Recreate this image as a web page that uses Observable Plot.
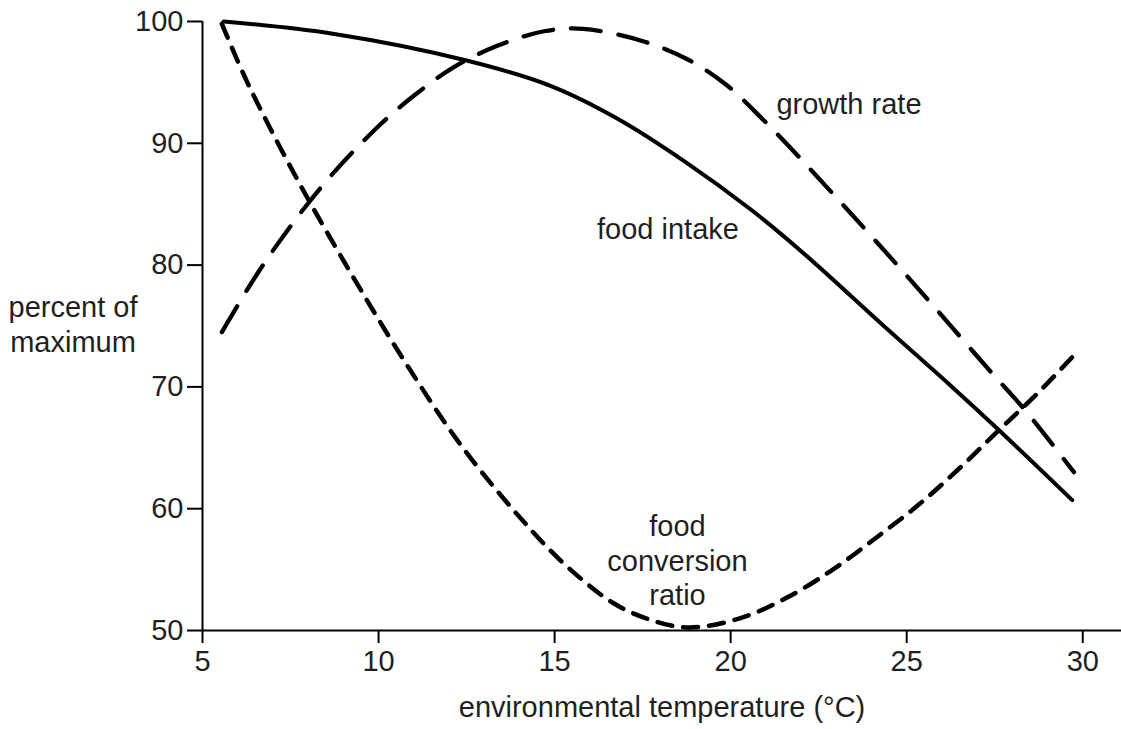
<!DOCTYPE html>
<html>
<head>
<meta charset="utf-8">
<script src="https://cdn.jsdelivr.net/npm/d3@7"></script>
<script src="https://cdn.jsdelivr.net/npm/@observablehq/plot@0.6"></script>
<style>
  body { margin: 0; background: #fff; }
</style>
</head>
<body>
<div id="chart"></div>
<script>
// Tick values
const xTicks = [5, 10, 15, 20, 25, 30];
const yTicks = [50, 60, 70, 80, 90, 100];

// Food intake (solid)
const intakeTemp = [5.6, 8.7, 12.5, 14.9, 16.8, 18.7, 20.6, 22.1, 24.35, 26.25, 27.6, 29.7];
const intakePct  = [100, 99.0, 96.8, 94.7, 92.0, 88.5, 84.5, 80.9, 75.0, 70.1, 66.5, 60.7];

// Growth rate (long dash)
const growthTemp = [5.55, 6.74, 8.4, 9.96, 11.0, 12.14, 13.37, 14.7, 15.8, 17.49, 18.77, 19.9, 20.9, 21.9, 23.74, 25.59, 27.4, 28.33, 29.75];
const growthPct  = [74.5, 80.1, 86.5, 91.3, 93.9, 96.25, 98.0, 99.2, 99.4, 98.4, 96.9, 94.75, 92.0, 89.0, 83.2, 77.2, 71.2, 68.2, 63.0];

// Food conversion ratio (short dash)
const fcrTemp = [5.55, 6.29, 7.66, 9.16, 10.74, 12.42, 14.38, 15.45, 16.64, 17.6, 18.77, 20.26, 21.6, 22.9, 24.17, 25.37, 26.49, 27.6, 28.69, 29.85];
const fcrPct  = [99.8, 94.9, 87.2, 79.6, 72.1, 64.9, 58.1, 55.0, 52.3, 51.0, 50.25, 51.0, 52.7, 55.0, 57.7, 60.4, 63.3, 66.4, 69.4, 72.9];

// Curve labels (annotation anchors in data space)
const labelText = ["growth rate", "food intake", "food\nconversion\nratio"];
const labelTemp = [23.36, 18.22, 18.49];
const labelPct  = [93.33, 83.05, 55.83];

const xTitle = "environmental temperature (°C)";
const yTitle = "percent of\nmaximum";

const toRows = (t, v) => t.map((d, i) => ({temp: d, pct: v[i]}));
const intake = toRows(intakeTemp, intakePct);
const growth = toRows(growthTemp, growthPct);
const fcr = toRows(fcrTemp, fcrPct);
const labels = labelText.map((s, i) => ({text: s, temp: labelTemp[i], pct: labelPct[i]}));

const ink = "#000";
const textInk = "#231f20";

const chart = Plot.plot({
  width: 1121,
  height: 729,
  marginLeft: 202,
  marginRight: 0,
  marginTop: 21,
  marginBottom: 99,
  x: {domain: [5, 31.1]},
  y: {domain: [50, 100]},
  style: {
    fontFamily: "'Liberation Sans', Arial, Helvetica, sans-serif",
    fontSize: "29px",
    color: textInk,
    background: "#fff"
  },
  marks: [
    Plot.axisX(xTicks, {tickSize: 13, tickPadding: 7, stroke: ink, strokeWidth: 2, label: null}),
    Plot.axisY(yTicks, {tickSize: 15, tickPadding: 4, stroke: ink, strokeWidth: 2, label: null}),
    Plot.ruleY([50], {stroke: ink, strokeWidth: 2}),
    Plot.ruleX([5], {y1: 50, y2: 100, stroke: ink, strokeWidth: 2}),
    Plot.line(intake, {x: "temp", y: "pct", curve: "catmull-rom", stroke: ink, strokeWidth: 4}),
    Plot.line(growth, {x: "temp", y: "pct", curve: "catmull-rom", stroke: ink, strokeWidth: 4.3, strokeDasharray: "30,18"}),
    Plot.line(fcr, {x: "temp", y: "pct", curve: "catmull-rom", stroke: ink, strokeWidth: 4.5, strokeDasharray: "15,11"}),
    Plot.text(labels, {x: "temp", y: "pct", text: "text", lineHeight: 1.2, fill: textInk}),
    Plot.text([xTitle], {frameAnchor: "bottom", lineAnchor: "middle", dy: 77.7, fill: textInk}),
    Plot.text([yTitle], {frameAnchor: "left", lineAnchor: "middle", dx: -129.5, dy: -2.3, textAnchor: "middle", lineHeight: 1.2, fill: textInk})
  ]
});

document.getElementById("chart").appendChild(chart);
</script>
</body>
</html>
